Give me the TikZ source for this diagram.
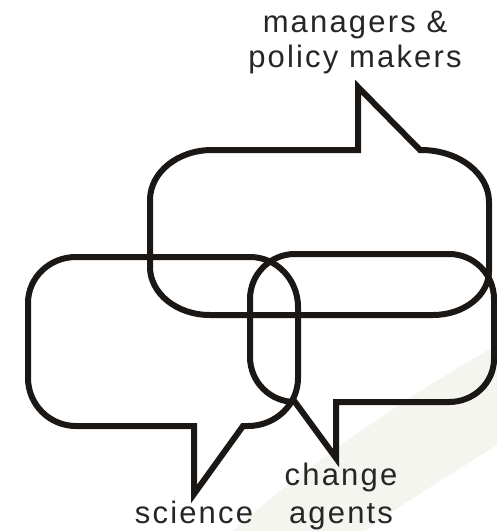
\documentclass[tikz,border=0pt]{standalone}
\usepackage{fontspec}
\setmainfont{Liberation Sans}[LetterSpace=7]
\definecolor{ink}{HTML}{1A1715}
\definecolor{txt}{HTML}{262626}
\definecolor{swoosh}{HTML}{F4F5EF}
\begin{document}
\begin{tikzpicture}[x=1pt,y=1pt,yscale=-1,
  bubble/.style={draw=ink,line width=6pt,line join=miter,miter limit=10},
  label/.style={anchor=base,text=txt,font=\fontsize{31}{37}\selectfont,inner sep=0pt}]
\useasboundingbox (0,0) rectangle (497,531);
% faint background swoosh
\fill[swoosh] (233,531) .. controls (300,470) and (400,400) .. (497,345)
  -- (497,445) .. controls (450,475) and (400,505) .. (365,531) -- cycle;
% managers & policy makers bubble
\draw[bubble] (212,150) -- (358,150) -- (358,87) -- (420,150) -- (421,150)
  arc[start angle=-90,end angle=0,x radius=68pt,y radius=52pt]
  -- (489,271)
  arc[start angle=0,end angle=90,x radius=56pt,y radius=44pt]
  -- (210,315)
  arc[start angle=90,end angle=180,x radius=60pt,y radius=48pt]
  -- (150,200)
  arc[start angle=180,end angle=270,x radius=62pt,y radius=50pt]
  -- cycle;
% science bubble
\draw[bubble] (76,257) -- (250,257)
  arc[start angle=-90,end angle=0,x radius=48pt,y radius=50pt]
  -- (298,378)
  arc[start angle=0,end angle=90,x radius=50pt,y radius=48pt]
  -- (243,426) -- (194,494) -- (194,426) -- (76,426)
  arc[start angle=90,end angle=180,x radius=48pt,y radius=48pt]
  -- (28,303)
  arc[start angle=180,end angle=270,x radius=48pt,y radius=46pt]
  -- cycle;
% change agents bubble
\draw[bubble] (295,254) -- (449,254)
  arc[start angle=-90,end angle=0,x radius=45pt,y radius=45pt]
  -- (494,359)
  arc[start angle=0,end angle=90,x radius=45pt,y radius=43pt]
  -- (336,402) -- (336,458) -- (295,402)
  arc[start angle=90,end angle=180,x radius=45pt,y radius=45pt]
  -- (250,299)
  arc[start angle=180,end angle=270,x radius=45pt,y radius=45pt]
  -- cycle;
% labels
\node[label] (mgr1) at (355,32) {managers \&};
\node[label] (mgr2) at (355,67) {policy makers};
\node[label] (sci) at (194,523) {science};
\node[label] (chg1) at (341,485) {change};
\node[label] (chg2) at (341,523) {agents};
\end{tikzpicture}
\end{document}
